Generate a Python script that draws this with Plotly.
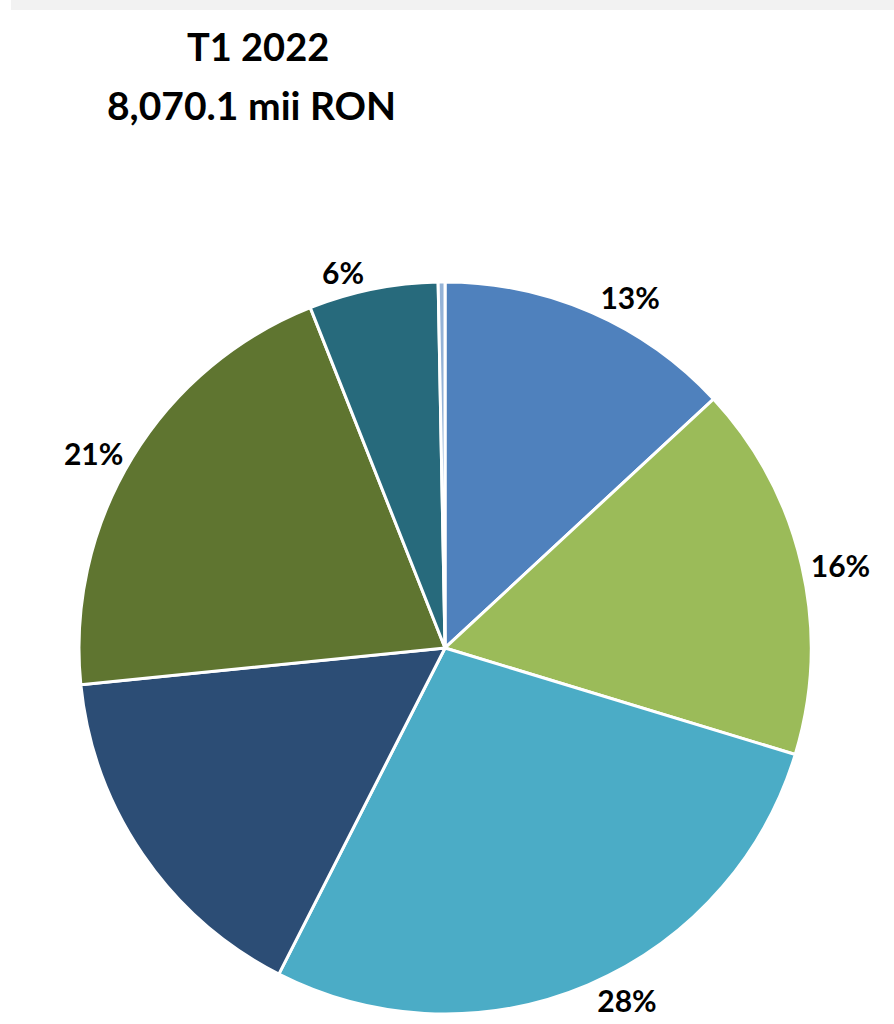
import plotly.graph_objects as go

categories = ["Categoria A", "Categoria B", "Categoria C", "Categoria D", "Categoria E", "Categoria F", "Categoria G"]
shares = [13.1, 16.6, 27.8, 15.9, 20.6, 5.7, 0.3]
label_texts = ["13%", "16%", "28%", "", "21%", "6%", ""]
colors = ["#4F81BD", "#9BBB59", "#4BACC6", "#2C4D75", "#5F7530", "#276A7C", "#95B3D7"]
title_line1 = "T1 2022"
title_line2 = "8,070.1 mii RON"

W, H = 894, 1024
fig = go.Figure()
fig.add_trace(go.Pie(
    labels=categories,
    values=shares,
    text=["<b>" + t + "</b>" if t else "" for t in label_texts],
    textinfo="text",
    textposition="outside",
    textfont=dict(family="Lato", size=30, color="#000000"),
    sort=False,
    direction="clockwise",
    rotation=0,
    marker=dict(colors=colors, line=dict(color="#FFFFFF", width=3)),
    domain=dict(x=[0.0855, 0.9101], y=[0.0, 0.722]),
    showlegend=False,
    hoverinfo="label+percent",
))

fig.add_annotation(text="<b>" + title_line1 + "</b>", x=258 / W, y=1 - 46 / H,
                   xref="paper", yref="paper", showarrow=False,
                   xanchor="center", yanchor="middle",
                   font=dict(family="Lato", size=38, color="#000000"))
fig.add_annotation(text="<b>" + title_line2 + "</b>", x=251 / W, y=1 - 106 / H,
                   xref="paper", yref="paper", showarrow=False,
                   xanchor="center", yanchor="middle",
                   font=dict(family="Lato", size=39, color="#000000"))

fig.add_shape(type="rect", xref="paper", yref="paper",
              x0=11 / W, x1=1, y0=1 - 10 / H, y1=1,
              fillcolor="#F2F2F2", line=dict(width=0), layer="below")

fig.update_layout(
    width=W, height=H,
    margin=dict(l=0, r=0, t=0, b=0),
    paper_bgcolor="#FFFFFF",
    plot_bgcolor="#FFFFFF",
)

fig.write_html("out.html", config={"displayModeBar": False},
               post_script="document.body.style.margin='0';")
